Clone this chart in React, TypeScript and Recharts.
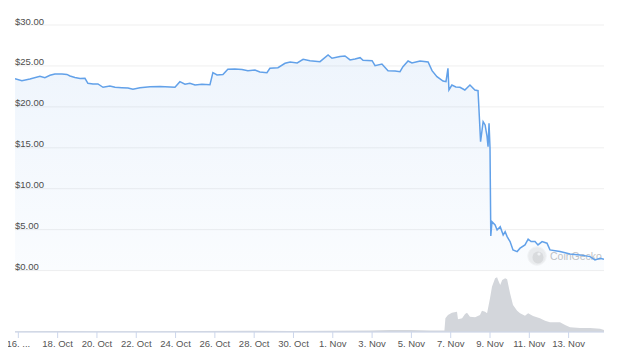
import React from 'react';
import {
  ComposedChart,
  Area,
  XAxis,
  YAxis,
  CartesianGrid
} from 'recharts';

// day number: 16 = 16 Oct, 32 = 1 Nov
const priceDays = [
  15.83, 16.18, 16.59, 17.1, 17.35, 17.61, 17.86, 18.22, 18.47, 18.63, 18.88, 19.14, 19.39, 19.54,
  19.8, 20.05, 20.31, 20.66, 20.92, 21.27, 21.58, 21.83, 22.19, 22.7, 23.21, 23.72, 23.97, 24.22,
  24.48, 24.73, 24.99, 25.34, 25.75, 25.9, 26.11, 26.41, 26.66, 27.02, 27.38, 27.68, 28.04, 28.29,
  28.65, 28.8, 29.21, 29.57, 29.83, 30.19, 30.49, 30.84, 31.35, 31.76, 31.96, 32.37, 32.62, 32.88,
  33.13, 33.39, 33.54, 34.0, 34.15, 34.5, 34.81, 35.17, 35.42, 35.57, 35.83, 36.03, 36.44, 36.85,
  37.05, 37.3, 37.61, 37.76, 37.86, 37.91, 38.06, 38.26, 38.47, 38.72, 38.98, 39.23, 39.39, 39.46,
  39.52, 39.65, 39.75, 39.85, 39.9, 39.95, 40.0, 40.04, 40.1, 40.26, 40.36, 40.52, 40.67, 40.77,
  40.87, 41.02, 41.17, 41.38, 41.53, 41.78, 41.94, 42.09, 42.29, 42.44, 42.65, 42.9, 43.05, 43.56,
  44.07, 44.58, 45.09, 45.34, 45.6, 45.8
];
const prices = [
  23.44, 23.2, 23.41, 23.74, 23.57, 23.86, 24.02, 24.02, 23.96, 23.77, 23.59, 23.47, 23.49, 22.88,
  22.8, 22.8, 22.39, 22.55, 22.39, 22.34, 22.31, 22.15, 22.34, 22.47, 22.49, 22.43, 22.39, 23.08,
  22.76, 22.88, 22.67, 22.76, 22.71, 24.18, 23.9, 23.96, 24.59, 24.63, 24.57, 24.42, 24.51, 24.26,
  24.18, 24.71, 24.79, 25.32, 25.48, 25.36, 25.81, 25.64, 25.52, 26.34, 25.94, 26.15, 26.22, 25.73,
  25.85, 26.01, 25.69, 25.64, 25.03, 25.24, 24.42, 24.38, 24.3, 24.91, 25.6, 25.36, 25.6, 25.48,
  24.42, 23.69, 23.16, 23.08, 24.71, 22.06, 22.67, 22.43, 22.39, 22.06, 22.67, 22.06, 21.98, 18.64,
  15.75, 18.19, 17.79, 16.36, 15.14, 18.0, 14.98, 4.24, 5.98, 5.58, 4.97, 5.37, 4.36, 4.76,
  4.15, 3.54, 2.53, 2.32, 2.74, 3.14, 3.83, 3.54, 3.54, 3.14, 3.54, 3.35, 2.53, 2.32,
  2.04, 1.92, 1.71, 1.31, 1.51, 1.39
];

// volume in $M
const volumeDays = [
  15.83, 18.12, 20.15, 22.7, 25.24, 27.79, 29.83, 31.86, 33.89, 34.91, 35.93, 36.95, 37.61, 37.68,
  37.73, 37.86, 38.06, 38.32, 38.37, 38.58, 38.73, 38.83, 38.98, 39.24, 39.49, 39.59, 39.75, 39.85,
  40.0, 40.1, 40.26, 40.36, 40.41, 40.52, 40.62, 40.77, 40.87, 41.02, 41.17, 41.38, 41.53, 41.78,
  41.94, 42.19, 42.54, 42.8, 43.05, 43.56, 43.82, 44.07, 44.58, 45.09, 45.6, 45.8
];
const volumes = [
  8, 10, 8, 8, 10, 12, 10, 12, 15, 20, 20, 15, 15, 15,
  137, 170, 193, 203, 127, 137, 180, 193, 153, 147, 170, 213, 203, 187,
  337, 453, 537, 547, 520, 470, 520, 537, 527, 387, 270, 213, 187, 163,
  187, 160, 137, 113, 97, 97, 70, 47, 40, 40, 33, 20
];

const priceTicks = [0, 5, 10, 15, 20, 25, 30];
const dayTicks = [16, 18, 20, 22, 24, 26, 28, 30, 32, 34, 36, 38, 40, 42, 44];

const rows: { d: number; price?: number; volume?: number }[] = [];
const byDay: Record<string, { d: number; price?: number; volume?: number }> = {};
const put = (d: number) => {
  const k = d.toFixed(2);
  if (!byDay[k]) {
    byDay[k] = { d };
    rows.push(byDay[k]);
  }
  return byDay[k];
};
priceDays.forEach((d, i) => { put(d).price = prices[i]; });
volumeDays.forEach((d, i) => { put(d).volume = volumes[i]; });
rows.sort((a, b) => a.d - b.d);

const FONT = '"Liberation Sans", Arial, Helvetica, sans-serif';

const dayLabel = (d: number) => {
  if (d === 16) return '16. ...';
  return d <= 31 ? `${d}. Oct` : `${d - 31}. Nov`;
};

const PriceTick = (props: any) => {
  const { y, payload } = props;
  return (
    <text x={15} y={y - 0.5} fill="#4d4d4d" fontSize={9.5} fontFamily={FONT} textAnchor="start">
      {'$' + Number(payload.value).toFixed(2)}
    </text>
  );
};

const Watermark = () => (
  <div style={{ position: 'absolute', left: 527, top: 246, display: 'flex', alignItems: 'center', opacity: 0.75 }}>
    <svg width={20} height={20}>
      <circle cx={10} cy={10} r={9.3} fill="#e9e9e9" stroke="#f4f4f4" strokeWidth={1} />
      <ellipse cx={11} cy={11.5} rx={5.5} ry={6} fill="#d2d2d2" />
      <circle cx={12} cy={8} r={1.6} fill="#f2f2f2" />
    </svg>
    <span style={{ fontFamily: FONT, fontSize: 10.5, color: '#b0b0b0', marginLeft: 3 }}>CoinGecko</span>
  </div>
);

export default function App() {
  return (
    <div style={{ position: 'relative', width: 623, height: 361, margin: -8, background: '#fff' }}>
      <Watermark />
      <div style={{ position: 'absolute', left: 0, top: 0 }}>
        <ComposedChart width={623} height={361} data={rows} margin={{ top: 25, right: 19, bottom: 0, left: 15 }}>
          <defs>
            <linearGradient id="priceFill" x1="0" y1="0" x2="0" y2="1">
              <stop offset="0%" stopColor="#5b9be6" stopOpacity={0.17} />
              <stop offset="100%" stopColor="#5b9be6" stopOpacity={0.05} />
            </linearGradient>
          </defs>
          <CartesianGrid yAxisId="price" vertical={false} stroke="#efefef" />
          <XAxis
            dataKey="d"
            type="number"
            domain={[15.83, 45.8]}
            allowDataOverflow
            ticks={dayTicks}
            tickFormatter={dayLabel}
            interval={0}
            height={29}
            tickSize={6}
            tickMargin={2}
            axisLine={{ stroke: '#ccd6eb' }}
            tickLine={{ stroke: '#ccd6eb' }}
            tick={{ fill: '#555', fontSize: 9.5, fontFamily: FONT }}
          />
          <YAxis
            yAxisId="price"
            type="number"
            domain={[-7.5, 30]}
            ticks={priceTicks}
            mirror
            width={40}
            axisLine={false}
            tickLine={false}
            tick={PriceTick}
            interval={0}
          />
          <YAxis yAxisId="volume" type="number" domain={[0, 3070]} hide />
          <Area
            yAxisId="volume"
            dataKey="volume"
            type="linear"
            stroke="none"
            fill="#d3d6db"
            fillOpacity={1}
            connectNulls
            isAnimationActive={false}
            dot={false}
            activeDot={false}
          />
          <Area
            yAxisId="price"
            dataKey="price"
            type="linear"
            baseValue={0}
            stroke="#62a1e9"
            strokeWidth={1.5}
            fill="url(#priceFill)"
            connectNulls
            isAnimationActive={false}
            dot={false}
            activeDot={false}
          />
        </ComposedChart>
      </div>
    </div>
  );
}
